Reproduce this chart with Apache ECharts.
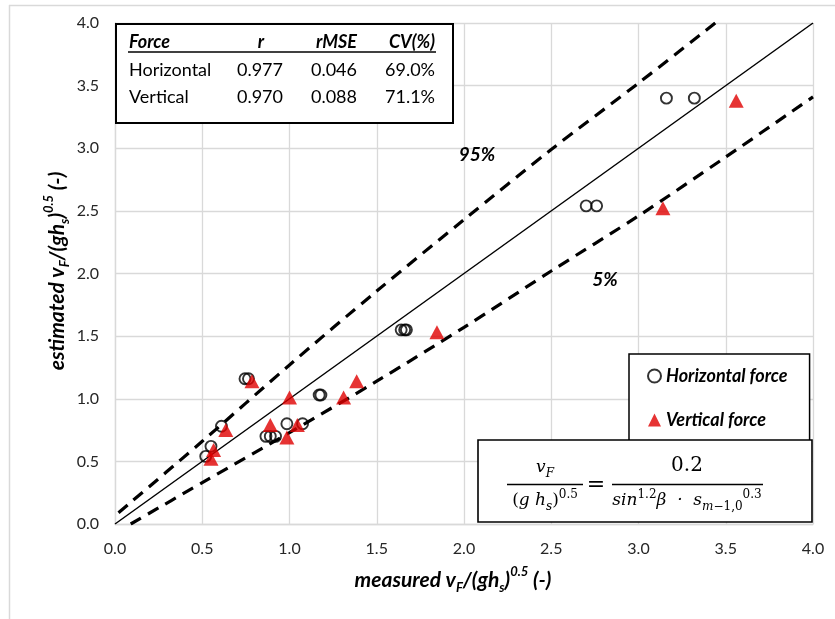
<!DOCTYPE html>
<html>
<head>
<meta charset="utf-8">
<style>
  html, body { margin: 0; padding: 0; background: #fff; }
  #chart { width: 835px; height: 619px; }
</style>
<script src="https://cdn.jsdelivr.net/npm/echarts@6/dist/echarts.min.js"></script>
</head>
<body>
<div id="chart"></div>
<script>
// measured vs estimated
const horizontalForce = [
  [0.52, 0.54], [0.55, 0.62], [0.61, 0.78], [0.745, 1.16], [0.765, 1.16],
  [0.865, 0.70], [0.89, 0.70], [0.92, 0.70], [0.985, 0.80], [1.075, 0.80],
  [1.17, 1.03], [1.18, 1.03], [1.64, 1.55], [1.66, 1.55], [1.67, 1.55],
  [2.70, 2.54], [2.76, 2.54], [3.16, 3.40], [3.32, 3.40]
]
const verticalForce = [
  [0.55, 0.52], [0.565, 0.59], [0.635, 0.75], [0.785, 1.14], [0.89, 0.79],
  [0.985, 0.69], [1.0, 1.01], [1.045, 0.79], [1.31, 1.01], [1.385, 1.14],
  [1.845, 1.53], [3.14, 2.52], [3.56, 3.38]
]
const lineOneToOne = [[0, 0], [4, 4]]
const band95 = [[0.02, 0.09], [0.5, 0.66], [1.0, 1.27], [1.5, 1.86], [2.0, 2.43], [2.5, 2.99], [3.0, 3.52], [3.44, 4.0]]
const band5 = [[0.09, 0.0], [0.5, 0.33], [1.0, 0.73], [1.5, 1.14], [2.0, 1.57], [2.5, 2.02], [3.0, 2.46], [3.5, 2.93], [4.0, 3.41]]
const tableHeader = ['Force', 'r', 'rMSE', 'CV(%)']
const tableRows = [
  ['Horizontal', '0.977', '0.046', '69.0%'],
  ['Vertical', '0.970', '0.088', '71.1%']
]

const FONT = 'Lato, "Open Sans", sans-serif'
const SERIF = '"DejaVu Serif", "Liberation Serif", serif'

const chart = echarts.init(document.getElementById('chart'))

// table cells: x position and alignment per column
const colX = [129, 261, 357, 435]
const colAlign = ['left', 'right', 'right', 'right']
const rowY = [42, 70, 97]

function txt(x, y, text, align, font, extra) {
  return Object.assign({
    type: 'text',
    z: 20,
    style: {
      x: x, y: y, text: text,
      font: font,
      fill: '#000',
      align: align, textAlign: align,
      verticalAlign: 'middle', textVerticalAlign: 'middle'
    }
  }, extra || {})
}

const tableGraphics = [
  {
    type: 'rect', z: 19,
    shape: { x: 116, y: 24, width: 337, height: 99 },
    style: { fill: '#fff', stroke: '#000', lineWidth: 2 }
  },
  {
    type: 'line', z: 20,
    shape: { x1: 128, y1: 52, x2: 436, y2: 52 },
    style: { stroke: '#000', lineWidth: 1.3 }
  }
]
tableHeader.forEach(function(h, i) {
  const align = i === 1 ? 'center' : colAlign[i]
  tableGraphics.push(txt(colX[i], rowY[0], h, align, 'italic bold 18px ' + FONT))
})
tableRows.forEach(function(row, r) {
  row.forEach(function(cell, i) {
    const x = i === 1 ? 283 : colX[i]
    tableGraphics.push(txt(x, rowY[r + 1], cell, colAlign[i], '18px ' + FONT))
  })
})

const mathRich = {
  i: { fontFamily: SERIF, fontStyle: 'italic', fontSize: 17, lineHeight: 24, color: '#000' },
  n: { fontFamily: SERIF, fontSize: 17, lineHeight: 24, color: '#000' },
  sub: { fontFamily: SERIF, fontStyle: 'italic', fontSize: 12, lineHeight: 12, verticalAlign: 'bottom', color: '#000' },
  subn: { fontFamily: SERIF, fontSize: 12, lineHeight: 12, verticalAlign: 'bottom', color: '#000' },
  sup: { fontFamily: SERIF, fontSize: 12, lineHeight: 12, verticalAlign: 'top', color: '#000' }
}

function richText(x, y, text, rich, extra) {
  return Object.assign({
    type: 'text', z: 20,
    style: {
      x: x, y: y, text: text, rich: rich,
      align: 'center', textAlign: 'center',
      verticalAlign: 'middle', textVerticalAlign: 'middle'
    }
  }, extra || {})
}

const formulaGraphics = [
  {
    type: 'rect', z: 19,
    shape: { x: 478, y: 440, width: 334, height: 82 },
    style: { fill: '#fff', stroke: '#000', lineWidth: 1.6 }
  },
  richText(545, 468, '{i|v}{sub|F}', mathRich),
  { type: 'line', z: 20, shape: { x1: 507, y1: 484.5, x2: 583, y2: 484.5 }, style: { stroke: '#000', lineWidth: 1.5 } },
  richText(545, 501, '{n|(}{i|g h}{sub|s}{n|)}{sup|0.5}', mathRich),
  txt(596, 485, '=', 'center', '22px ' + SERIF),
  txt(687, 466, '0.2', 'center', '20px ' + SERIF),
  { type: 'line', z: 20, shape: { x1: 612, y1: 484.5, x2: 763, y2: 484.5 }, style: { stroke: '#000', lineWidth: 1.5 } },
  richText(687, 501, '{i|sin}{sup|1.2}{i|β  ·  s}{sub|m}{subn|−1,0}{sup|0.3}', mathRich)
]

const titleRich = {
  a: { fontFamily: FONT, fontStyle: 'italic', fontWeight: 'bold', fontSize: 21, lineHeight: 29, color: '#000' },
  b: { fontFamily: FONT, fontStyle: 'italic', fontWeight: 'bold', fontSize: 13, lineHeight: 13, verticalAlign: 'bottom', color: '#000' },
  c: { fontFamily: FONT, fontStyle: 'italic', fontWeight: 'bold', fontSize: 13, lineHeight: 13, verticalAlign: 'top', color: '#000' }
}

const yTitle = richText(0, 0, '{a|estimated v}{b|F}{a|/(gh}{b|s}{a|)}{c|0.5}{a| (-)}', titleRich)
// rotated title: the element origin sits at its centre
yTitle.x = 57
yTitle.y = 271
yTitle.rotation = Math.PI / 2

const otherGraphics = [
  // light outer frame of the sheet
  { type: 'line', z: 1, shape: { x1: 9.5, y1: 5, x2: 9.5, y2: 619 }, style: { stroke: '#d9d9d9', lineWidth: 1.5 } },
  { type: 'line', z: 1, shape: { x1: 9, y1: 5.5, x2: 835, y2: 5.5 }, style: { stroke: '#d9d9d9', lineWidth: 1.5 } },
  richText(453, 580, '{a|measured v}{b|F}{a|/(gh}{b|s}{a|)}{c|0.5}{a| (-)}', titleRich),
  yTitle,
  txt(477, 155, '95%', 'center', 'italic bold 19px ' + FONT),
  txt(605, 280, '5%', 'center', 'italic bold 19px ' + FONT)
]

const axisCommon = {
  type: 'value',
  min: 0,
  max: 4,
  interval: 0.5,
  axisLine: { show: true, lineStyle: { color: '#d9d9d9', width: 1.3 } },
  axisTick: { show: false },
  splitLine: { show: true, lineStyle: { color: '#d9d9d9', width: 1.3 } },
  axisLabel: {
    fontFamily: FONT, fontSize: 16, color: '#262626',
    formatter: function(v) { return v.toFixed(1) }
  }
}

chart.setOption({
  animation: false,
  grid: { left: 115, top: 23, right: 22, bottom: 95 },
  xAxis: Object.assign({}, axisCommon, { axisLabel: Object.assign({}, axisCommon.axisLabel, { margin: 17 }) }),
  yAxis: Object.assign({}, axisCommon, { axisLabel: Object.assign({}, axisCommon.axisLabel, { margin: 16 }) }),
  legend: {
    orient: 'vertical',
    left: 629,
    top: 354,
    padding: [13, 22, 16, 18],
    itemGap: 26,
    itemWidth: 13,
    itemHeight: 13,
    backgroundColor: '#fff',
    borderColor: '#000',
    borderWidth: 1.5,
    z: 10,
    textStyle: { fontFamily: FONT, fontStyle: 'italic', fontWeight: 'bold', fontSize: 18, color: '#000' },
    data: [
      { name: 'Horizontal force', icon: 'circle' },
      { name: 'Vertical force', icon: 'triangle' }
    ]
  },
  graphic: tableGraphics.concat(formulaGraphics, otherGraphics),
  series: [
    {
      type: 'line', data: lineOneToOne, symbol: 'none', silent: true, z: 2,
      lineStyle: { color: '#000', width: 1.5 }
    },
    {
      type: 'line', data: band95, symbol: 'none', silent: true, smooth: 0.3, z: 2,
      lineStyle: { color: '#000', width: 3.2, type: [12, 8] }
    },
    {
      type: 'line', data: band5, symbol: 'none', silent: true, smooth: 0.3, z: 2,
      lineStyle: { color: '#000', width: 3.2, type: [12, 8] }
    },
    {
      name: 'Horizontal force', type: 'scatter', data: horizontalForce,
      symbol: 'circle', symbolSize: 11, z: 3,
      itemStyle: { color: 'rgba(0,0,0,0)', borderColor: '#000', borderWidth: 1.9 }
    },
    {
      name: 'Vertical force', type: 'scatter', data: verticalForce,
      symbol: 'triangle', symbolSize: [15, 14], z: 4,
      itemStyle: { color: '#e00000' }
    }
  ]
})
</script>
</body>
</html>
